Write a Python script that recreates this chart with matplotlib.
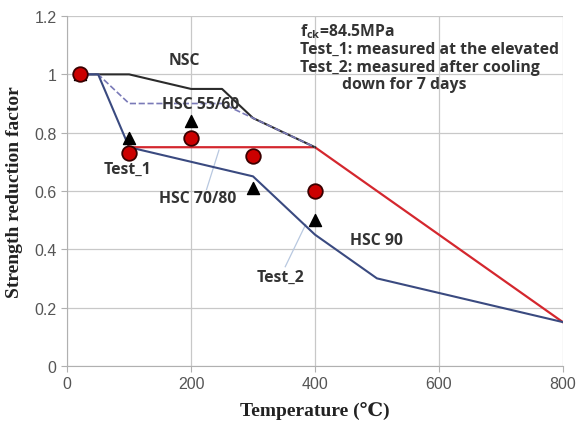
#!/usr/bin/env python3

import matplotlib
matplotlib.use("Agg")
import matplotlib.pyplot as plt
from matplotlib.ticker import FuncFormatter

# Eurocode-like reduction curves
nsc_t = [20, 100, 200, 250, 300, 400]
nsc_k = [1.0, 1.0, 0.95, 0.95, 0.85, 0.75]

hsc5560_t = [20, 50, 100, 250, 300, 400]
hsc5560_k = [1.0, 1.0, 0.9, 0.9, 0.85, 0.75]

hsc7080_t = [100, 400, 800]
hsc7080_k = [0.75, 0.75, 0.15]

hsc90_t = [20, 50, 100, 200, 300, 400, 500, 600, 700, 800]
hsc90_k = [1.0, 1.0, 0.75, 0.70, 0.65, 0.45, 0.30, 0.25, 0.20, 0.15]

# measured points
test1_t = [20, 100, 200, 300, 400]
test1_k = [1.0, 0.73, 0.78, 0.72, 0.60]
test2_t = [20, 100, 200, 300, 400]
test2_k = [1.0, 0.78, 0.84, 0.61, 0.50]

x_ticks = [0, 200, 400, 600, 800]
y_ticks = [0, 0.2, 0.4, 0.6, 0.8, 1.0, 1.2]


def main():
    fig = plt.figure(figsize=(5.79, 4.27), dpi=100)
    ax = fig.add_axes([0.116, 0.141, 0.856, 0.819])

    ax.set_xlim(0, 800)
    ax.set_ylim(0, 1.2)
    ax.set_xticks(x_ticks)
    ax.set_yticks(y_ticks)
    ax.yaxis.set_major_formatter(FuncFormatter(lambda v, _: f"{v:g}"))
    ax.grid(True, color="#c8c8c8", lw=0.9)
    ax.set_axisbelow(True)
    for side in ["top", "right"]:
        ax.spines[side].set_visible(False)
    for side in ["left", "bottom"]:
        ax.spines[side].set_color("#b0b0b0")
    ax.tick_params(colors="#b0b0b0", labelcolor="#555555", labelsize=11.5, length=4)
    for lbl in ax.get_xticklabels() + ax.get_yticklabels():
        lbl.set_family("Liberation Sans")

    ax.plot(hsc7080_t, hsc7080_k, color="#d4272e", lw=1.6, zorder=2)
    ax.plot(nsc_t, nsc_k, color="#2b2b2b", lw=1.5, zorder=3)
    ax.plot(hsc5560_t, hsc5560_k, color="#7a7ab8", lw=1.2, ls="--", zorder=3)
    ax.plot(hsc90_t, hsc90_k, color="#3a4a80", lw=1.5, zorder=3)

    ax.scatter(test2_t, test2_k, marker="^", s=75, color="black", zorder=4)
    ax.scatter(test1_t, test1_k, marker="o", s=110, color="#cc0000",
               edgecolors="#3a0000", linewidths=1.3, zorder=5)

    lab = dict(family="Open Sans", fontweight="bold", fontsize=11.3, color="#333333")
    ax.text(190, 1.05, "NSC", ha="center", va="center", **lab)
    ax.text(215, 0.897, "HSC 55/60", ha="center", va="center", **lab)
    ax.text(97, 0.675, "Test_1", ha="center", va="center", **lab)
    ax.text(210, 0.575, "HSC 70/80", ha="center", va="center", **lab)
    ax.text(500, 0.43, "HSC 90", ha="center", va="center", **lab)
    ax.text(345, 0.305, "Test_2", ha="center", va="center", **lab)
    ax.plot([225, 245], [0.605, 0.74], color="#b8c8e0", lw=0.9)
    ax.plot([352, 385], [0.34, 0.485], color="#b8c8e0", lw=0.9)

    ax.text(376, 1.15, r"f$_{\mathregular{ck}}$=84.5MPa", ha="left", va="center", **lab)
    ax.text(376, 1.088, "Test_1: measured at the elevated", ha="left", va="center", **lab)
    ax.text(376, 1.026, "Test_2: measured after cooling", ha="left", va="center", **lab)
    ax.text(443, 0.966, "down for 7 days", ha="left", va="center", **lab)

    serif = ["Liberation Serif", "DejaVu Serif"]
    ax.set_xlabel("Temperature (\u2103)", family=serif, fontweight="bold",
                  fontsize=14, color="#222222", labelpad=7)
    ax.set_ylabel("Strength reduction factor", family=serif, fontweight="bold",
                  fontsize=14, color="#222222", labelpad=8)

    fig.savefig("out.png", dpi=100)


if __name__ == "__main__":
    main()
